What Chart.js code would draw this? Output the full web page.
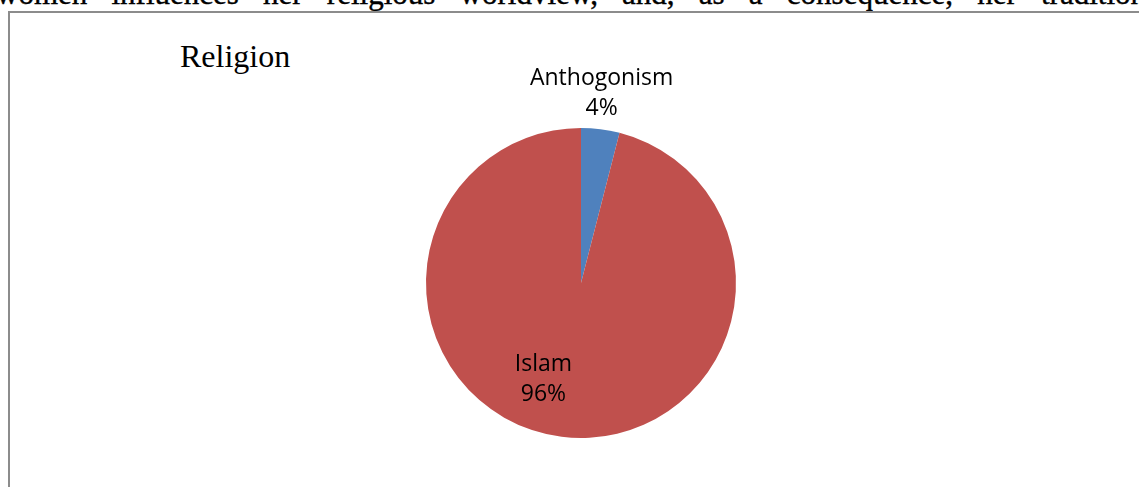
<!DOCTYPE html>
<html>
<head>
<meta charset="utf-8">
<script src="https://cdn.jsdelivr.net/npm/chart.js@4/dist/chart.umd.min.js"></script>
<style>
  html, body { margin: 0; padding: 0; background: #fff; overflow: hidden; }
  body { width: 1139px; height: 487px; position: relative; }
  #para {
    position: absolute; left: -4px; top: -24px; width: 1150px;
    font: 31px "Liberation Serif", "Times New Roman", serif;
    text-align: justify; text-align-last: justify; white-space: nowrap;
    color: #000; -webkit-text-stroke: 0.4px #000;
  }
  #frame {
    position: absolute; left: 8px; top: 11px; width: 1200px; height: 600px;
    border: 2px solid #8c8c8c; box-sizing: border-box;
  }
  #title {
    position: absolute; left: 180px; top: 38px;
    font: 32px "Liberation Serif", "Times New Roman", serif; color: #000;
  }
  #wrap { position: absolute; left: 0; top: 0; width: 1139px; height: 487px; }
</style>
</head>
<body>
<div id="para">women influences her religious worldview, and, as a consequence, her tradition</div>
<div id="frame"></div>
<div id="title">Religion</div>
<div id="wrap"><canvas id="pie"></canvas></div>
<script>
const labels = ["Anthogonism", "Islam"];
const values = [4, 96];
const colors = ["#4f81bd", "#c0504d"];

// where each label sits: fraction of radius from centre, extra turn in degrees
const labelRadius = [1.23, 0.67];
const labelTurn = [-1, 14];

const pieLabels = {
  id: "pieLabels",
  afterDatasetsDraw(chart) {
    const ctx = chart.ctx;
    const meta = chart.getDatasetMeta(0);
    const total = values.reduce((a, b) => a + b, 0);
    ctx.save();
    ctx.fillStyle = "#000";
    ctx.font = '23px "Open Sans", sans-serif';
    ctx.textAlign = "center";
    ctx.textBaseline = "middle";
    meta.data.forEach((arc, i) => {
      const p = arc.getProps(["x", "y", "startAngle", "endAngle", "outerRadius"], true);
      const mid = (p.startAngle + p.endAngle) / 2 + labelTurn[i] * Math.PI / 180;
      const r = p.outerRadius * labelRadius[i];
      const x = p.x + Math.cos(mid) * r;
      const y = p.y + Math.sin(mid) * r;
      const pct = Math.round(values[i] / total * 100) + "%";
      ctx.fillText(labels[i], x, y - 15);
      ctx.fillText(pct, x, y + 15);
    });
    ctx.restore();
  },
};

new Chart(document.getElementById("pie"), {
  type: "pie",
  data: {
    labels,
    datasets: [{
      data: values,
      backgroundColor: colors,
      borderWidth: 0,
      hoverOffset: 0,
      offset: 0,
    }],
  },
  options: {
    responsive: true,
    maintainAspectRatio: false,
    animation: false,
    layout: { padding: { left: 426, right: 403, top: 128, bottom: 49 } },
    plugins: { legend: { display: false }, tooltip: { enabled: false } },
  },
  plugins: [pieLabels],
});
</script>
</body>
</html>
